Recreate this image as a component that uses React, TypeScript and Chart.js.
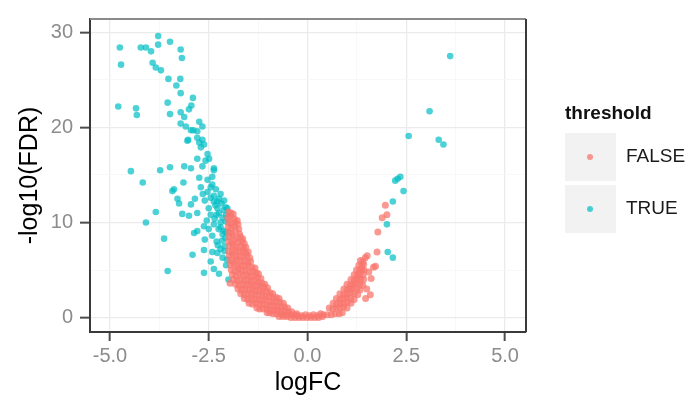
import React, { useEffect, useRef } from 'react';
import { Chart, registerables } from 'chart.js';

Chart.register(...registerables);

const xMajor = [-5, -2.5, 0, 2.5, 5];
const xMinor = [-3.75, -1.25, 1.25, 3.75];
const yMajor = [0, 10, 20, 30];
const yMinor = [5, 15, 25];
const legendTitle = 'threshold';
const legendLabels = ['FALSE', 'TRUE'];
const xTitle = 'logFC';
const yTitle = '-log10(FDR)';

// threshold = FALSE  [logFC, -log10(FDR)]
const falsePoints: [number, number][] = [
  [-2.00, 11.1], [-1.94, 11.0], [-1.88, 10.9],
  [-2.02, 10.5], [-1.95, 10.6], [-1.86, 10.4], [-1.78, 10.2],
  [-2.00, 10.0], [-1.92, 9.9], [-1.83, 10.0], [-1.76, 9.8],
  [-2.01, 9.5], [-1.93, 9.4], [-1.85, 9.6], [-1.74, 9.3],
  [-2.00, 9.0], [-1.92, 8.9], [-1.82, 9.1], [-1.72, 8.8],
  [-1.98, 8.5], [-1.90, 8.6], [-1.80, 8.4], [-1.70, 8.5], [-1.64, 8.3],
  [-2.00, 8.0], [-1.92, 7.9], [-1.84, 8.1], [-1.75, 7.9], [-1.66, 8.0], [-1.60, 7.8],
  [-1.97, 7.5], [-1.89, 7.6], [-1.80, 7.4], [-1.70, 7.5], [-1.62, 7.3], [-1.56, 7.4],
  [-1.99, 7.0], [-1.90, 6.9], [-1.82, 7.1], [-1.73, 6.9], [-1.64, 7.0], [-1.56, 6.8], [-1.50, 6.9],
  [-1.98, 6.5], [-1.90, 6.6], [-1.81, 6.4], [-1.72, 6.5], [-1.63, 6.4], [-1.54, 6.5], [-1.46, 6.3],
  [-1.96, 6.0], [-1.88, 5.9], [-1.79, 6.1], [-1.70, 5.9], [-1.61, 6.0], [-1.52, 5.8], [-1.44, 5.9],
  [-1.95, 5.5], [-1.86, 5.6], [-1.77, 5.4], [-1.68, 5.5], [-1.59, 5.4], [-1.50, 5.5], [-1.41, 5.3], [-1.33, 5.2],
  [-1.93, 5.0], [-1.84, 4.9], [-1.75, 5.1], [-1.66, 4.9], [-1.57, 5.0], [-1.48, 4.8], [-1.39, 4.9], [-1.30, 4.7], [-1.24, 4.6],
  [-1.90, 4.5], [-1.81, 4.4], [-1.72, 4.6], [-1.63, 4.4], [-1.54, 4.5], [-1.45, 4.3], [-1.36, 4.4], [-1.27, 4.2], [-1.18, 4.1],
  [-1.87, 4.0], [-1.78, 3.9], [-1.69, 4.0], [-1.60, 3.9], [-1.51, 4.0], [-1.42, 3.8], [-1.33, 3.9], [-1.24, 3.7], [-1.15, 3.6], [-1.08, 3.5],
  [-1.82, 3.5], [-1.73, 3.4], [-1.64, 3.5], [-1.55, 3.4], [-1.46, 3.5], [-1.37, 3.3], [-1.28, 3.4], [-1.19, 3.2], [-1.10, 3.2], [-1.01, 3.1],
  [-1.76, 3.0], [-1.67, 2.9], [-1.58, 3.0], [-1.49, 2.9], [-1.40, 3.0], [-1.31, 2.8], [-1.22, 2.9], [-1.13, 2.7], [-1.04, 2.8], [-0.95, 2.6], [-0.88, 2.5],
  [-1.69, 2.5], [-1.60, 2.4], [-1.51, 2.5], [-1.42, 2.4], [-1.33, 2.5], [-1.24, 2.3], [-1.15, 2.4], [-1.06, 2.2], [-0.97, 2.3], [-0.88, 2.1], [-0.79, 2.1], [-0.72, 2.0],
  [-1.60, 2.0], [-1.51, 1.9], [-1.42, 2.0], [-1.33, 1.9], [-1.24, 1.9], [-1.15, 1.8], [-1.06, 1.9], [-0.97, 1.7], [-0.88, 1.7], [-0.79, 1.6], [-0.70, 1.6], [-0.61, 1.5],
  [-1.48, 1.5], [-1.39, 1.4], [-1.30, 1.5], [-1.21, 1.4], [-1.12, 1.4], [-1.03, 1.3], [-0.94, 1.3], [-0.85, 1.2], [-0.76, 1.2], [-0.67, 1.1], [-0.58, 1.1], [-0.50, 1.0],
  [-1.28, 1.0], [-1.21, 0.9], [-1.12, 0.9], [-1.03, 0.9], [-0.94, 0.8], [-0.85, 0.8], [-0.76, 0.8], [-0.67, 0.7], [-0.58, 0.7], [-0.49, 0.6], [-0.40, 0.6],
  [-1.02, 0.5], [-0.96, 0.5], [-0.87, 0.4], [-0.78, 0.4], [-0.69, 0.4], [-0.60, 0.3], [-0.51, 0.3], [-0.42, 0.3], [-0.33, 0.3], [-0.25, 0.2],
  [-0.72, 0.1], [-0.62, 0.1], [-0.52, 0.1], [-0.42, 0.0], [-0.32, 0.0], [-0.22, 0.0], [-0.12, 0.0], [-0.02, 0.0], [0.08, 0.0], [0.18, 0.0], [0.28, 0.0], [0.38, 0.1],
  [-0.15, 0.2], [0.05, 0.2], [0.25, 0.2], [-0.05, 0.3], [0.15, 0.3], [-0.27, 0.4], [0.33, 0.4], [-1.96, 3.6],
  [0.40, 0.3], [0.50, 0.3], [0.60, 0.3], [0.70, 0.4], [0.80, 0.4], [0.88, 0.5],
  [0.55, 1.0], [0.64, 0.9], [0.73, 1.0], [0.82, 1.0], [0.91, 1.1], [1.00, 1.0],
  [0.65, 1.5], [0.74, 1.4], [0.83, 1.5], [0.92, 1.5], [1.01, 1.6], [1.10, 1.5],
  [0.73, 2.0], [0.82, 1.9], [0.91, 2.0], [1.00, 2.1], [1.09, 2.0], [1.18, 1.9],
  [0.82, 2.5], [0.91, 2.4], [1.00, 2.5], [1.09, 2.6], [1.18, 2.5], [1.27, 2.4],
  [0.92, 3.0], [1.00, 2.9], [1.08, 3.0], [1.16, 3.1], [1.25, 3.0], [1.33, 2.9],
  [1.00, 3.5], [1.08, 3.4], [1.16, 3.5], [1.24, 3.6], [1.32, 3.5], [1.40, 3.4],
  [1.10, 4.0], [1.18, 3.9], [1.26, 4.1], [1.34, 4.0], [1.42, 4.0],
  [1.18, 4.5], [1.26, 4.4], [1.33, 4.6], [1.41, 4.5],
  [1.24, 5.0], [1.31, 4.9], [1.38, 5.1], [1.43, 5.0],
  [1.30, 5.5], [1.37, 5.4], [1.42, 5.6],
  [1.34, 6.0], [1.40, 5.9],
  [1.46, 6.3], [1.51, 6.5], [1.72, 5.4], [1.67, 5.3], [1.61, 4.1], [1.59, 2.4], [1.50, 3.0], [1.47, 2.0],
  [1.55, 4.8], [1.76, 6.9], [1.78, 9.0], [1.89, 10.5], [2.01, 10.8], [1.97, 11.8],
];

// threshold = TRUE  [logFC, -log10(FDR)]
const truePoints: [number, number][] = [
  [-4.75, 28.4], [-4.72, 26.6], [-4.22, 28.4], [-4.09, 28.4], [-3.96, 28.0], [-3.78, 29.6], [-3.78, 28.7],
  [-3.48, 29.0], [-3.21, 28.2], [-3.18, 27.3], [-3.92, 26.8], [-3.84, 26.3], [-3.71, 26.0], [-3.52, 25.1],
  [-3.22, 25.1], [-3.32, 24.4], [-3.21, 23.6], [-2.90, 23.1], [-3.54, 22.6], [-2.94, 22.3], [-4.79, 22.2],
  [-4.34, 22.0], [-4.32, 21.3], [-3.48, 21.4], [-3.21, 21.6], [-3.12, 21.1], [-3.00, 21.9], [-3.21, 20.4],
  [-3.08, 20.1], [-2.74, 20.6], [-2.66, 20.1], [-2.89, 19.7], [-2.79, 18.9], [-3.02, 18.7], [-2.66, 18.7],
  [-2.62, 18.2], [-2.70, 17.9], [-2.53, 17.2], [-2.58, 16.5], [-2.49, 16.7], [-2.37, 15.5], [-4.47, 15.4],
  [-3.73, 15.5], [-3.48, 15.8], [-3.12, 15.9], [-2.95, 15.7], [-4.17, 14.2], [-3.38, 13.5], [-3.14, 14.2],
  [-2.74, 14.7], [-2.70, 13.7], [-2.53, 14.5], [-2.45, 13.7], [-2.37, 12.8], [-2.24, 12.5], [-3.29, 12.5],
  [-2.95, 19.7], [-2.79, 19.6], [-3.04, 18.6], [-2.74, 18.4], [-2.79, 16.7], [-2.66, 15.9], [-2.37, 15.7],
  [-2.41, 14.8], [-2.41, 14.0], [-3.42, 13.3], [-2.32, 13.5], [-2.53, 13.2], [-3.25, 12.0], [-2.95, 11.9],
  [-2.37, 12.2], [-2.11, 12.3], [-2.28, 11.5], [-2.07, 11.6], [-3.84, 11.1], [-3.17, 10.9], [-3.00, 10.7],
  [-2.79, 11.0], [-2.45, 10.8], [-2.24, 11.0], [-2.06, 10.8], [-4.09, 10.0], [-2.79, 9.1], [-2.37, 9.8],
  [-2.20, 10.0], [-2.11, 9.1], [-3.63, 8.3], [-2.87, 8.9], [-2.62, 9.6], [-2.41, 8.6], [-2.91, 6.6],
  [-2.62, 7.1], [-2.41, 6.9], [-2.28, 6.8], [-2.45, 5.9], [-2.37, 5.1], [-3.54, 4.9], [-2.62, 4.7],
  [-2.24, 4.6], [-2.00, 4.0], [-2.04, 6.1], [-2.16, 8.1], [-2.20, 9.5], [-2.07, 10.1], [-2.28, 12.2],
  [-2.03, 11.5], [-2.10, 7.5], [-2.20, 7.2], [-2.30, 8.0], [-2.15, 8.8], [-2.06, 9.0], [-2.25, 9.3],
  [-2.35, 10.4], [-2.15, 10.5], [-2.50, 11.5], [-2.60, 12.3], [-2.20, 13.0], [-2.45, 12.6], [-2.10, 7.0],
  [-2.06, 5.5], [-2.15, 6.3], [-2.30, 10.8], [-2.55, 10.2], [-2.60, 8.2], [-2.33, 11.8], [-2.12, 11.3],
  [-2.50, 9.3], [-2.27, 7.6], [-2.08, 8.4], [-2.18, 12.0], [-2.65, 13.0], [-2.85, 12.5],
  [3.61, 27.5], [3.09, 21.7], [2.56, 19.1], [3.32, 18.7], [3.44, 18.2], [2.35, 14.8], [2.28, 14.6],
  [2.22, 14.4], [2.43, 13.3], [2.16, 12.2], [2.01, 9.8], [2.03, 6.9], [2.16, 6.3],
];

const RED = 'rgba(248,118,109,0.75)';
const TEAL = 'rgba(0,191,196,0.7)';
const FONT = '"Liberation Sans", Arial, Helvetica, sans-serif';

export default function App() {
  const ref = useRef<HTMLCanvasElement | null>(null);

  useEffect(() => {
    document.body.style.margin = '0';
    const canvas = ref.current;
    if (!canvas) return;

    const framePlugin = {
      id: 'ggFrame',
      afterDatasetsDraw(chart: any) {
        const { ctx, chartArea: a } = chart;
        ctx.save();
        ctx.lineWidth = 2;
        ctx.strokeStyle = '#8a8a8a';
        ctx.beginPath();
        ctx.moveTo(a.left, a.top);
        ctx.lineTo(a.right, a.top);
        ctx.stroke();
        ctx.strokeStyle = '#3a3a3a';
        ctx.beginPath();
        ctx.moveTo(a.right, a.top);
        ctx.lineTo(a.right, a.bottom);
        ctx.stroke();
        ctx.restore();
      },
      afterDraw(chart: any) {
        const { ctx } = chart;
        ctx.save();
        ctx.textBaseline = 'middle';
        ctx.textAlign = 'left';
        ctx.fillStyle = '#111';
        ctx.font = `bold 19px ${FONT}`;
        ctx.fillText(legendTitle, 565, 114);
        const colors = [RED, TEAL];
        legendLabels.forEach((lab, i) => {
          const top = 133 + i * 52;
          ctx.fillStyle = '#f2f2f2';
          ctx.fillRect(565, top, 51, 48);
          ctx.fillStyle = colors[i];
          ctx.beginPath();
          ctx.arc(590, top + 24, 3, 0, Math.PI * 2);
          ctx.fill();
          ctx.fillStyle = '#1a1a1a';
          ctx.font = `19px ${FONT}`;
          ctx.fillText(lab, 626, top + 24);
        });
        ctx.restore();
      },
    };

    const isMajorX = (v: number) => xMajor.includes(v);
    const isMajorY = (v: number) => yMajor.includes(v);

    const chart = new Chart(canvas, {
      type: 'scatter',
      data: {
        datasets: [
          {
            label: legendLabels[0],
            data: falsePoints.map(([x, y]) => ({ x, y })),
            backgroundColor: RED,
            borderWidth: 0,
            pointRadius: 3.5,
          },
          {
            label: legendLabels[1],
            data: truePoints.map(([x, y]) => ({ x, y })),
            backgroundColor: TEAL,
            borderWidth: 0,
            pointRadius: 3.3,
          },
        ],
      },
      options: {
        responsive: false,
        animation: false,
        layout: { padding: { left: 0, top: 6, right: 169, bottom: 0 } },
        plugins: {
          legend: { display: false },
          tooltip: { enabled: false },
        },
        scales: {
          x: {
            type: 'linear',
            min: -5.505,
            max: 5.53,
            afterBuildTicks: (s: any) => {
              s.ticks = [...xMinor, ...xMajor].sort((a, b) => a - b).map((v) => ({ value: v }));
            },
            afterFit: (s: any) => {
              s.height = 72;
            },
            ticks: {
              autoSkip: false,
              maxRotation: 0,
              padding: 3,
              color: '#8c8c8c',
              font: { family: FONT, size: 20 },
              callback: (v: any) => (isMajorX(Number(v)) ? Number(v).toFixed(1) : ''),
            },
            grid: {
              color: (c: any) => (c.tick && isMajorX(c.tick.value) ? '#ebebeb' : '#f6f6f6'),
              lineWidth: (c: any) => (c.tick && isMajorX(c.tick.value) ? 1.3 : 0.8),
              tickColor: (c: any) => (c.tick && isMajorX(c.tick.value) ? '#4d4d4d' : 'rgba(0,0,0,0)'),
              tickLength: 9,
              tickWidth: 2,
            },
            border: { display: true, color: '#3a3a3a', width: 2 },
            title: {
              display: true,
              text: xTitle,
              color: '#000',
              font: { family: FONT, size: 25 },
              padding: { top: 0, bottom: 6 },
            },
          },
          y: {
            type: 'linear',
            min: -1.52,
            max: 31.4,
            afterBuildTicks: (s: any) => {
              s.ticks = [...yMajor, ...yMinor].sort((a, b) => a - b).map((v) => ({ value: v }));
            },
            afterFit: (s: any) => {
              s.width = 90;
            },
            ticks: {
              autoSkip: false,
              padding: 7,
              color: '#8c8c8c',
              font: { family: FONT, size: 20 },
              callback: (v: any) => (isMajorY(Number(v)) ? String(v) : ''),
            },
            grid: {
              color: (c: any) => (c.tick && isMajorY(c.tick.value) ? '#ebebeb' : '#f6f6f6'),
              lineWidth: (c: any) => (c.tick && isMajorY(c.tick.value) ? 1.3 : 0.8),
              tickColor: (c: any) => (c.tick && isMajorY(c.tick.value) ? '#4d4d4d' : 'rgba(0,0,0,0)'),
              tickLength: 10,
              tickWidth: 2,
            },
            border: { display: true, color: '#3a3a3a', width: 2 },
            title: {
              display: true,
              text: yTitle,
              color: '#000',
              font: { family: FONT, size: 25 },
              padding: { top: 15, bottom: 0 },
            },
          },
        },
      },
      plugins: [framePlugin],
    } as any);

    return () => chart.destroy();
  }, []);

  return <canvas ref={ref} width={695} height={404} style={{ display: 'block' }} />;
}
